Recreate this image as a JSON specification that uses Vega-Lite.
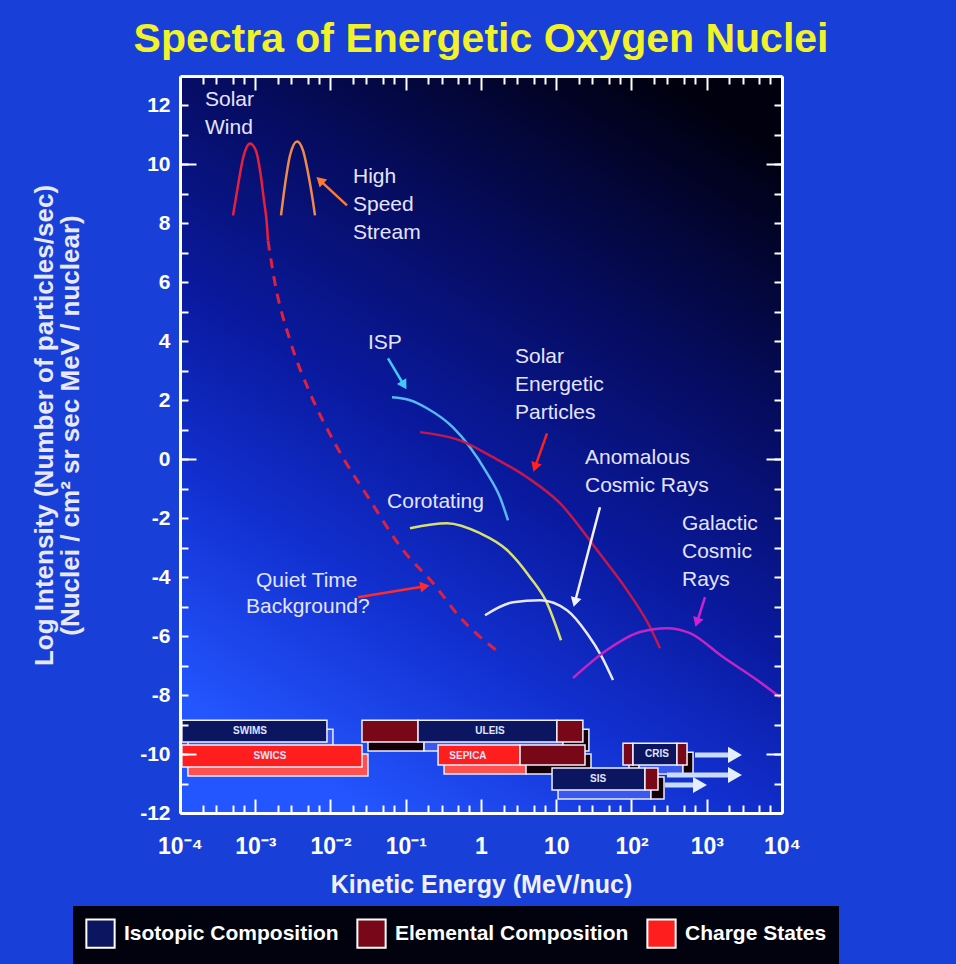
{
  "$schema": "https://vega.github.io/schema/vega-lite/v6.json",
  "width": 602,
  "height": 737,
  "autosize": {"type": "none"},
  "padding": {"left": 180, "top": 76, "right": 174, "bottom": 151},
  "background": "#1840d8",
  "title": {"text": "Spectra of Energetic Oxygen Nuclei", "color": "#f2f22a", "fontSize": 41, "font": "Liberation Sans", "fontWeight": "bold", "anchor": "middle", "offset": 14},
  "config": {"view": {"stroke": null}, "axis": {"grid": false}, "font": "Liberation Sans"},
  "datasets": {
    "bg": [{"x0": 0.0001, "x1": 10000, "y0": -12, "y1": 13}],
    "boxes": [
      {"instrument": "SWIMS", "kind": "Isotopic Composition", "E1": 0.000106, "E2": 0.00897, "Y1": -9.59, "Y2": -8.85},
      {"instrument": "SWICS", "kind": "Charge States", "E1": 0.000106, "E2": 0.0262, "Y1": -10.44, "Y2": -9.69},
      {"instrument": "ULEIS", "kind": "Elemental Composition", "E1": 0.0262, "E2": 0.1456, "Y1": -9.59, "Y2": -8.85},
      {"instrument": "ULEIS", "kind": "Isotopic Composition", "E1": 0.1456, "E2": 10.2, "Y1": -9.59, "Y2": -8.85},
      {"instrument": "ULEIS", "kind": "Elemental Composition", "E1": 10.2, "E2": 22.6, "Y1": -9.59, "Y2": -8.85},
      {"instrument": "SEPICA", "kind": "Charge States", "E1": 0.2686, "E2": 3.3, "Y1": -10.37, "Y2": -9.69},
      {"instrument": "SEPICA", "kind": "Elemental Composition", "E1": 3.3, "E2": 24.1, "Y1": -10.37, "Y2": -9.69},
      {"instrument": "SIS", "kind": "Isotopic Composition", "E1": 8.79, "E2": 151, "Y1": -11.22, "Y2": -10.47},
      {"instrument": "SIS", "kind": "Elemental Composition", "E1": 151, "E2": 225, "Y1": -11.22, "Y2": -10.47},
      {"instrument": "CRIS", "kind": "Elemental Composition", "E1": 77.1, "E2": 104.7, "Y1": -10.37, "Y2": -9.63},
      {"instrument": "CRIS", "kind": "Isotopic Composition", "E1": 104.7, "E2": 402, "Y1": -10.37, "Y2": -9.63},
      {"instrument": "CRIS", "kind": "Elemental Composition", "E1": 402, "E2": 547, "Y1": -10.37, "Y2": -9.63}
    ],
    "boxlabels": [
      {"t": "SWIMS", "E": 0.000851, "Y": -9.22},
      {"t": "SWICS", "E": 0.00157, "Y": -10.07},
      {"t": "ULEIS", "E": 1.318, "Y": -9.22},
      {"t": "SEPICA", "E": 0.671, "Y": -10.07},
      {"t": "SIS", "E": 35.9, "Y": -10.85},
      {"t": "CRIS", "E": 218, "Y": -10.0}
    ],
    "ext": [
      {"id": "e1", "E": 698, "Y": -10.03}, {"id": "e1", "E": 2371, "Y": -10.03},
      {"id": "e2", "E": 296, "Y": -10.71}, {"id": "e2", "E": 2371, "Y": -10.71},
      {"id": "e3", "E": 279, "Y": -11.05}, {"id": "e3", "E": 813, "Y": -11.05}
    ],
    "exthead": [
      {"E": 2371, "Y": -10.03}, {"E": 2371, "Y": -10.71}, {"E": 813, "Y": -11.05}
    ],
    "curves": [
      {"series": "Solar Wind", "E": 0.000506, "Y": 8.27},
      {"series": "Solar Wind", "E": 0.00059, "Y": 9.29},
      {"series": "Solar Wind", "E": 0.000687, "Y": 10.2},
      {"series": "Solar Wind", "E": 0.000851, "Y": 10.71},
      {"series": "Solar Wind", "E": 0.00102, "Y": 10.47},
      {"series": "Solar Wind", "E": 0.001156, "Y": 9.8},
      {"series": "Solar Wind", "E": 0.001306, "Y": 8.78},
      {"series": "Solar Wind", "E": 0.001432, "Y": 7.93},
      {"series": "Solar Wind", "E": 0.001475, "Y": 7.42},
      {"series": "High Speed Stream", "E": 0.0022, "Y": 8.27},
      {"series": "High Speed Stream", "E": 0.00248, "Y": 9.29},
      {"series": "High Speed Stream", "E": 0.0029, "Y": 10.31},
      {"series": "High Speed Stream", "E": 0.00359, "Y": 10.78},
      {"series": "High Speed Stream", "E": 0.00432, "Y": 10.47},
      {"series": "High Speed Stream", "E": 0.00502, "Y": 9.73},
      {"series": "High Speed Stream", "E": 0.00568, "Y": 8.95},
      {"series": "High Speed Stream", "E": 0.00622, "Y": 8.27},
      {"series": "ISP", "E": 0.0656, "Y": 2.1},
      {"series": "ISP", "E": 0.1138, "Y": 2.0},
      {"series": "ISP", "E": 0.1914, "Y": 1.73},
      {"series": "ISP", "E": 0.4246, "Y": 1.08},
      {"series": "ISP", "E": 0.7145, "Y": 0.41},
      {"series": "ISP", "E": 1.202, "Y": -0.47},
      {"series": "ISP", "E": 1.788, "Y": -1.29},
      {"series": "ISP", "E": 2.285, "Y": -2.07},
      {"series": "Solar Energetic Particles", "E": 0.1545, "Y": 0.92},
      {"series": "Solar Energetic Particles", "E": 0.526, "Y": 0.64},
      {"series": "Solar Energetic Particles", "E": 1.443, "Y": 0.07},
      {"series": "Solar Energetic Particles", "E": 4.08, "Y": -0.61},
      {"series": "Solar Energetic Particles", "E": 11.2, "Y": -1.49},
      {"series": "Solar Energetic Particles", "E": 34.8, "Y": -3.08},
      {"series": "Solar Energetic Particles", "E": 87.1, "Y": -4.44},
      {"series": "Solar Energetic Particles", "E": 176, "Y": -5.69},
      {"series": "Solar Energetic Particles", "E": 239, "Y": -6.41},
      {"series": "Corotating", "E": 0.1138, "Y": -2.34},
      {"series": "Corotating", "E": 0.353, "Y": -2.17},
      {"series": "Corotating", "E": 0.97, "Y": -2.51},
      {"series": "Corotating", "E": 2.217, "Y": -3.08},
      {"series": "Corotating", "E": 4.48, "Y": -4.0},
      {"series": "Corotating", "E": 7.53, "Y": -4.88},
      {"series": "Corotating", "E": 11.56, "Y": -6.14},
      {"series": "Anomalous Cosmic Rays", "E": 1.13, "Y": -5.29},
      {"series": "Anomalous Cosmic Rays", "E": 2.66, "Y": -4.85},
      {"series": "Anomalous Cosmic Rays", "E": 6.08, "Y": -4.78},
      {"series": "Anomalous Cosmic Rays", "E": 13.9, "Y": -5.12},
      {"series": "Anomalous Cosmic Rays", "E": 25.6, "Y": -5.9},
      {"series": "Anomalous Cosmic Rays", "E": 40.5, "Y": -6.71},
      {"series": "Anomalous Cosmic Rays", "E": 56.8, "Y": -7.49},
      {"series": "Galactic Cosmic Rays", "E": 16.7, "Y": -7.42},
      {"series": "Galactic Cosmic Rays", "E": 47.2, "Y": -6.47},
      {"series": "Galactic Cosmic Rays", "E": 129.7, "Y": -5.86},
      {"series": "Galactic Cosmic Rays", "E": 296, "Y": -5.73},
      {"series": "Galactic Cosmic Rays", "E": 599, "Y": -5.9},
      {"series": "Galactic Cosmic Rays", "E": 1644, "Y": -6.71},
      {"series": "Galactic Cosmic Rays", "E": 4656, "Y": -7.49},
      {"series": "Galactic Cosmic Rays", "E": 9400, "Y": -8.07}
    ],
    "quiet": [
      {"E": 0.001475, "Y": 7.42},
      {"E": 0.00183, "Y": 5.97},
      {"E": 0.0029, "Y": 4.03},
      {"E": 0.00535, "Y": 2.24},
      {"E": 0.0122, "Y": 0.41},
      {"E": 0.0335, "Y": -1.39},
      {"E": 0.0918, "Y": -3.08},
      {"E": 0.23, "Y": -4.2},
      {"E": 0.526, "Y": -5.36},
      {"E": 1.79, "Y": -6.58}
    ],
    "arrows": [
      {"id": "hss", "E": 0.01656, "Y": 8.61}, {"id": "hss", "E": 0.00724, "Y": 9.46},
      {"id": "isp", "E": 0.0581, "Y": 3.42}, {"id": "isp", "E": 0.0948, "Y": 2.51},
      {"id": "sep", "E": 7.53, "Y": 0.88}, {"id": "sep", "E": 5.22, "Y": -0.27},
      {"id": "acr", "E": 38.1, "Y": -1.63}, {"id": "acr", "E": 17.7, "Y": -4.85},
      {"id": "gcr", "E": 948, "Y": -4.68}, {"id": "gcr", "E": 741, "Y": -5.53},
      {"id": "qtb", "E": 0.0232, "Y": -4.68}, {"id": "qtb", "E": 0.18, "Y": -4.31}
    ],
    "heads": [
      {"id": "hss", "E": 0.00724, "Y": 9.46, "heading": 313},
      {"id": "isp", "E": 0.0948, "Y": 2.51, "heading": 149},
      {"id": "sep", "E": 5.22, "Y": -0.27, "heading": 199},
      {"id": "acr", "E": 17.7, "Y": -4.85, "heading": 195},
      {"id": "gcr", "E": 741, "Y": -5.53, "heading": 198},
      {"id": "qtb", "E": 0.18, "Y": -4.31, "heading": 81}
    ],
    "labels": [
      {"t": "Solar", "E": 0.000215, "Y": 12.17},
      {"t": "Wind", "E": 0.000215, "Y": 11.22},
      {"t": "High", "E": 0.0199, "Y": 9.56},
      {"t": "Speed", "E": 0.0199, "Y": 8.61},
      {"t": "Stream", "E": 0.0199, "Y": 7.66},
      {"t": "ISP", "E": 0.0315, "Y": 3.93},
      {"t": "Solar", "E": 2.83, "Y": 3.46},
      {"t": "Energetic", "E": 2.83, "Y": 2.51},
      {"t": "Particles", "E": 2.83, "Y": 1.56},
      {"t": "Anomalous", "E": 24.1, "Y": 0.03},
      {"t": "Cosmic Rays", "E": 24.1, "Y": -0.92},
      {"t": "Galactic", "E": 469, "Y": -2.2},
      {"t": "Cosmic", "E": 469, "Y": -3.15},
      {"t": "Rays", "E": 469, "Y": -4.1},
      {"t": "Corotating", "E": 0.0564, "Y": -1.46},
      {"t": "Quiet Time", "E": 0.001023, "Y": -4.12},
      {"t": "Background?", "E": 0.000753, "Y": -5.0}
    ]
  },
  "layer": [
    {
      "data": {"name": "bg"},
      "mark": {"type": "rect", "fill": {"gradient": "linear", "x1": 0.8, "y1": 0, "x2": 0.3, "y2": 1, "stops": [{"offset": 0, "color": "#00000e"}, {"offset": 0.3, "color": "#060c60"}, {"offset": 0.55, "color": "#0a1aa0"}, {"offset": 0.75, "color": "#1230d0"}, {"offset": 1, "color": "#2456ff"}]}},
      "encoding": {
        "x": {"field": "x0", "type": "quantitative", "scale": {"type": "log", "domain": [0.0001, 10000], "nice": false},
          "axis": {"orient": "bottom", "zindex": 2, "values": [0.0001, 0.001, 0.01, 0.1, 1, 10, 100, 1000, 10000], "labelExpr": "['10⁻⁴','10⁻³','10⁻²','10⁻¹','1','10','10²','10³','10⁴'][round(log(datum.value)/LN10) + 4]", "ticks": false, "domain": true, "domainColor": "#ffffff", "domainWidth": 3, "labelColor": "#ffffff", "labelFontSize": 23, "labelFontWeight": "bold", "labelFont": "Liberation Sans", "labelPadding": 22, "labelFlush": false, "labelOverlap": false, "title": "Kinetic Energy (MeV/nuc)", "titleColor": "#f0f0ff", "titleFontSize": 25, "titleFontWeight": "bold", "titleFont": "Liberation Sans", "titlePadding": 14}},
        "x2": {"field": "x1"},
        "y": {"field": "y0", "type": "quantitative", "scale": {"domain": [-12, 13], "nice": false, "zero": false},
          "axis": {"orient": "left", "zindex": 2, "values": [-12, -10, -8, -6, -4, -2, 0, 2, 4, 6, 8, 10, 12], "labelExpr": "'' + datum.value", "ticks": false, "domain": true, "domainColor": "#ffffff", "domainWidth": 3, "labelColor": "#ffffff", "labelFontSize": 21, "labelFontWeight": "bold", "labelFont": "Liberation Sans", "labelPadding": 10, "labelOverlap": false, "title": ["Log Intensity (Number of particles/sec)", "(Nuclei / cm² sr sec MeV / nuclear)"], "titleColor": "#e8e8ff", "titleFontSize": 26, "titleFontWeight": "bold", "titleFont": "Liberation Sans", "titleLineHeight": 26, "titlePadding": 56, "titleY": 349}},
        "y2": {"field": "y1"}
      }
    },
    {
      "data": {"name": "boxes"},
      "mark": {"type": "rect", "xOffset": 6, "x2Offset": 6, "yOffset": 9, "y2Offset": 9, "stroke": "#e8ecff", "strokeWidth": 1.5},
      "encoding": {
        "x": {"field": "E1", "type": "quantitative", "scale": {"type": "log", "domain": [0.0001, 10000], "nice": false}, "axis": null},
        "x2": {"field": "E2"},
        "y": {"field": "Y1", "type": "quantitative", "scale": {"domain": [-12, 13], "nice": false, "zero": false}, "axis": null},
        "y2": {"field": "Y2"},
        "color": {"field": "kind", "type": "nominal", "scale": {"domain": ["Isotopic Composition", "Elemental Composition", "Charge States"], "range": ["#3a58f0", "#140006", "#ff5050"]}, "legend": null}
      }
    },
    {
      "data": {"name": "boxes"},
      "mark": {"type": "rect", "stroke": "#f0f0ff", "strokeWidth": 1.5, "opacity": 1},
      "encoding": {
        "x": {"field": "E1", "type": "quantitative", "scale": {"type": "log", "domain": [0.0001, 10000], "nice": false}, "axis": null},
        "x2": {"field": "E2"},
        "y": {"field": "Y1", "type": "quantitative", "scale": {"domain": [-12, 13], "nice": false, "zero": false}, "axis": null},
        "y2": {"field": "Y2"},
        "color": {"field": "kind", "type": "nominal", "scale": {"domain": ["Isotopic Composition", "Elemental Composition", "Charge States"], "range": ["#0c1660", "#780818", "#ff1e1e"]},
          "legend": {"orient": "none", "legendX": -107, "legendY": 830, "direction": "horizontal", "title": null, "symbolType": "square", "symbolSize": 800, "symbolStrokeColor": "#ffffff", "symbolStrokeWidth": 2, "symbolOpacity": 1, "labelColor": "#ffffff", "labelFontSize": 21, "labelFontWeight": "bold", "labelFont": "Liberation Sans", "labelLimit": 400, "columnPadding": 14, "labelOffset": 8, "fillColor": "#02020e", "padding": 12}}
      }
    },
    {
      "data": {"name": "boxlabels"},
      "mark": {"type": "text", "fontSize": 10, "fontWeight": "bold", "color": "#e0e4ff", "font": "Liberation Sans"},
      "encoding": {
        "x": {"field": "E", "type": "quantitative", "scale": {"type": "log", "domain": [0.0001, 10000], "nice": false}, "axis": null},
        "y": {"field": "Y", "type": "quantitative", "scale": {"domain": [-12, 13], "nice": false, "zero": false},
          "axis": {"orient": "left", "zindex": 2, "values": [-12, -11, -10, -9, -8, -7, -6, -5, -4, -3, -2, -1, 0, 1, 2, 3, 4, 5, 6, 7, 8, 9, 10, 11, 12], "labels": false, "domain": false, "ticks": true, "tickColor": "#ffffff", "tickWidth": 2, "tickSize": -8, "title": null}},
        "text": {"field": "t"}
      }
    },
    {
      "data": {"name": "ext"},
      "mark": {"type": "line", "strokeWidth": 5, "color": "#c8dcff"},
      "encoding": {
        "x": {"field": "E", "type": "quantitative", "scale": {"type": "log", "domain": [0.0001, 10000], "nice": false},
          "axis": {"orient": "bottom", "zindex": 2, "values": [0.0002, 0.0003, 0.0005, 0.0007, 0.002, 0.003, 0.005, 0.007, 0.02, 0.03, 0.05, 0.07, 0.2, 0.3, 0.5, 0.7, 2, 3, 5, 7, 20, 30, 50, 70, 200, 300, 500, 700, 2000, 3000, 5000, 7000], "labels": false, "domain": false, "ticks": true, "tickColor": "#ffffff", "tickWidth": 2, "tickSize": -8, "title": null}},
        "y": {"field": "Y", "type": "quantitative", "scale": {"domain": [-12, 13], "nice": false, "zero": false},
          "axis": {"orient": "right", "zindex": 2, "values": [-12, -11, -10, -9, -8, -7, -6, -5, -4, -3, -2, -1, 0, 1, 2, 3, 4, 5, 6, 7, 8, 9, 10, 11, 12], "labels": false, "domain": true, "domainColor": "#ffffff", "domainWidth": 3, "ticks": true, "tickColor": "#ffffff", "tickWidth": 2, "tickSize": -8, "title": null}},
        "detail": {"field": "id"}
      }
    },
    {
      "data": {"name": "exthead"},
      "mark": {"type": "point", "shape": "triangle-right", "filled": true, "size": 260, "color": "#e4eeff", "opacity": 1},
      "encoding": {
        "x": {"field": "E", "type": "quantitative", "scale": {"type": "log", "domain": [0.0001, 10000], "nice": false},
          "axis": {"orient": "top", "zindex": 2, "values": [0.0002, 0.0003, 0.0005, 0.0007, 0.002, 0.003, 0.005, 0.007, 0.02, 0.03, 0.05, 0.07, 0.2, 0.3, 0.5, 0.7, 2, 3, 5, 7, 20, 30, 50, 70, 200, 300, 500, 700, 2000, 3000, 5000, 7000], "labels": false, "domain": false, "ticks": true, "tickColor": "#ffffff", "tickWidth": 2, "tickSize": -8, "title": null}},
        "y": {"field": "Y", "type": "quantitative", "scale": {"domain": [-12, 13], "nice": false, "zero": false},
          "axis": {"orient": "right", "zindex": 2, "values": [-10, 0, 10], "labels": false, "domain": false, "ticks": true, "tickColor": "#ffffff", "tickWidth": 2, "tickSize": -16, "title": null}}
      }
    },
    {
      "data": {"name": "curves"},
      "mark": {"type": "line", "strokeWidth": 2.5, "interpolate": "monotone"},
      "encoding": {
        "x": {"field": "E", "type": "quantitative", "scale": {"type": "log", "domain": [0.0001, 10000], "nice": false},
          "axis": {"orient": "bottom", "zindex": 2, "values": [0.0001, 0.001, 0.01, 0.1, 1, 10, 100, 1000, 10000], "labels": false, "domain": false, "ticks": true, "tickColor": "#ffffff", "tickWidth": 2, "tickSize": -14, "title": null}},
        "y": {"field": "Y", "type": "quantitative", "scale": {"domain": [-12, 13], "nice": false, "zero": false},
          "axis": {"orient": "left", "zindex": 2, "values": [-10, 0, 10], "labels": false, "domain": false, "ticks": true, "tickColor": "#ffffff", "tickWidth": 2, "tickSize": -16, "title": null}},
        "color": {"field": "series", "type": "nominal", "scale": {"domain": ["Solar Wind", "High Speed Stream", "ISP", "Solar Energetic Particles", "Corotating", "Anomalous Cosmic Rays", "Galactic Cosmic Rays"], "range": ["#e8203a", "#f08a4a", "#58b8f0", "#c4184c", "#d8e070", "#e8e8ff", "#c424c4"]}, "legend": null}
      }
    },
    {
      "data": {"name": "quiet"},
      "mark": {"type": "line", "strokeWidth": 3, "strokeDash": [10, 8], "color": "#e0203c", "interpolate": "monotone"},
      "encoding": {
        "x": {"field": "E", "type": "quantitative", "scale": {"type": "log", "domain": [0.0001, 10000], "nice": false},
          "axis": {"orient": "top", "zindex": 2, "values": [0.0001, 0.001, 0.01, 0.1, 1, 10, 100, 1000, 10000], "labels": false, "domain": true, "domainColor": "#ffffff", "domainWidth": 3, "ticks": true, "tickColor": "#ffffff", "tickWidth": 2, "tickSize": -14, "title": null}},
        "y": {"field": "Y", "type": "quantitative", "scale": {"domain": [-12, 13], "nice": false, "zero": false}, "axis": null}
      }
    },
    {
      "data": {"name": "arrows"},
      "mark": {"type": "line", "strokeWidth": 2.5},
      "encoding": {
        "x": {"field": "E", "type": "quantitative", "scale": {"type": "log", "domain": [0.0001, 10000], "nice": false}, "axis": null},
        "y": {"field": "Y", "type": "quantitative", "scale": {"domain": [-12, 13], "nice": false, "zero": false}, "axis": null},
        "detail": {"field": "id"},
        "color": {"field": "id", "type": "nominal", "scale": {"domain": ["hss", "isp", "sep", "acr", "gcr", "qtb"], "range": ["#ff7a30", "#40c8f8", "#ff2020", "#f0f0ff", "#d020d0", "#ff2a2a"]}, "legend": null}
      }
    },
    {
      "data": {"name": "heads"},
      "mark": {"type": "point", "shape": "triangle-up", "filled": true, "size": 120, "opacity": 1},
      "encoding": {
        "x": {"field": "E", "type": "quantitative", "scale": {"type": "log", "domain": [0.0001, 10000], "nice": false}, "axis": null},
        "y": {"field": "Y", "type": "quantitative", "scale": {"domain": [-12, 13], "nice": false, "zero": false}, "axis": null},
        "angle": {"field": "heading", "type": "quantitative", "scale": null},
        "color": {"field": "id", "type": "nominal", "scale": {"domain": ["hss", "isp", "sep", "acr", "gcr", "qtb"], "range": ["#ff7a30", "#40c8f8", "#ff2020", "#f0f0ff", "#d020d0", "#ff2a2a"]}, "legend": null}
      }
    },
    {
      "data": {"name": "labels"},
      "mark": {"type": "text", "align": "left", "baseline": "middle", "fontSize": 21, "color": "#e4e4ff", "font": "Liberation Sans"},
      "encoding": {
        "x": {"field": "E", "type": "quantitative", "scale": {"type": "log", "domain": [0.0001, 10000], "nice": false}, "axis": null},
        "y": {"field": "Y", "type": "quantitative", "scale": {"domain": [-12, 13], "nice": false, "zero": false}, "axis": null},
        "text": {"field": "t"}
      }
    }
  ],
  "resolve": {"scale": {"color": "independent"}, "axis": {"x": "independent", "y": "independent"}}
}
